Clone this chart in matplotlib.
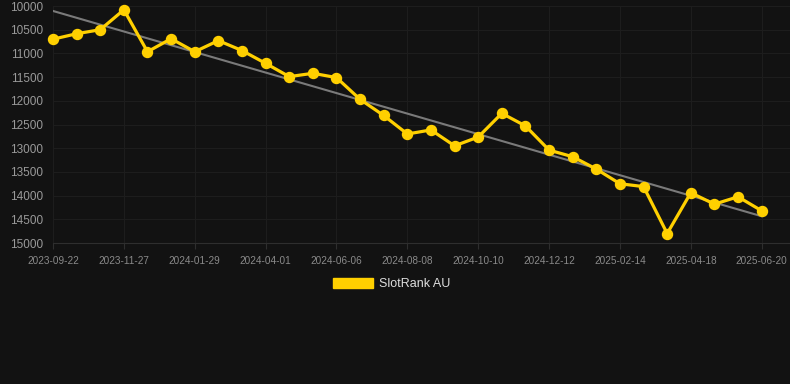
import numpy as np
import matplotlib
matplotlib.use("Agg")
import matplotlib.pyplot as plt
from matplotlib.patches import Patch

# rank values
dates = ["2023-09-22", "2023-11-27", "2024-01-29", "2024-04-01", "2024-06-06", "2024-08-08",
         "2024-10-10", "2024-12-12", "2025-02-14", "2025-04-18", "2025-06-20"]
ranks = [10700, 10585, 10500, 10080, 10965, 10690, 10965, 10730, 10940, 11210,
         11490, 11420, 11510, 11970, 12310, 12700, 12615, 12950, 12765, 12265,
         12530, 13040, 13180, 13440, 13750, 13810, 14800, 13940, 14180, 14025, 14320]
yticks = [10000, 10500, 11000, 11500, 12000, 12500, 13000, 13500, 14000, 14500, 15000]

bg = "#121212"
yellow = "#FFD000"

plt.rcParams['font.family'] = ['Liberation Sans', 'DejaVu Sans']

fig = plt.figure(figsize=(7.9, 3.84), dpi=100, facecolor=bg)
ax = fig.add_axes([53 / 790, 1 - 243 / 384, 1 - 53 / 790, 237 / 384])
ax.set_facecolor(bg)

x = np.arange(len(ranks))
# linear trend line
k, b = np.polyfit(x, ranks, 1)
ax.plot([x[0], x[-1]], [k * x[0] + b, k * x[-1] + b], color="#7a7a7a", lw=1.5, zorder=2)

ax.plot(x, ranks, color=yellow, lw=2.3, marker="o", ms=7.2, zorder=3, clip_on=False)

ax.set_ylim(15000, 10000)
ax.set_xlim(0, 31.2)
ax.set_yticks(yticks)
ax.set_xticks(x[::3])
ax.set_xticklabels(dates)

ax.grid(True, color="#1d1d1d", lw=0.8)
ax.set_axisbelow(True)
for s in ["top", "right", "left"]:
    ax.spines[s].set_visible(False)
ax.spines["bottom"].set_color("#2e2e2e")
ax.tick_params(axis="x", colors="#2e2e2e", labelcolor="#8a8a8a", labelsize=7.2, length=4, pad=5)
ax.tick_params(axis="y", length=0, labelcolor="#9a9a9a", labelsize=8.5, pad=7)

leg = ax.legend(handles=[Patch(facecolor=yellow, edgecolor=yellow)], labels=["SlotRank AU"],
                loc="center", bbox_to_anchor=(392 / 790, 1 - 284 / 384), bbox_transform=fig.transFigure,
                frameon=False, fontsize=9, handlelength=3.2, handleheight=0.95, handletextpad=0.5)
for t in leg.get_texts():
    t.set_color("#dddddd")

fig.savefig("out.png", dpi=100, facecolor=bg)
